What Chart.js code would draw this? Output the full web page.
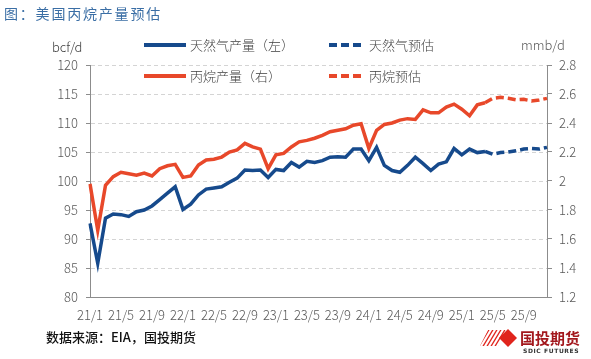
<!DOCTYPE html>
<html>
<head>
<meta charset="utf-8">
<script src="https://cdn.jsdelivr.net/npm/chart.js@4"></script>
<style>
  html, body { margin: 0; padding: 0; background: #fff; }
  #wrap { position: relative; width: 591px; height: 359px; overflow: hidden; font-family: "Noto Sans CJK SC", sans-serif; }
  #myChart { position: absolute; left: 0; top: 0; }
  .txt { position: absolute; white-space: nowrap; }
  #title { left: 4px; top: 3px; font-size: 14px; color: #3a6ea5; letter-spacing: 1.8px; }
  #unitL { left: 52px; top: 37px; font-size: 13px; color: #404040; font-weight: 300; }
  #unitR { left: 521px; top: 35px; font-size: 13px; color: #595959; font-weight: 300; }
  #source { left: 46px; top: 327px; font-size: 13px; color: #111; font-weight: 500; }
  #logo { position: absolute; left: 478px; top: 326px; }
</style>
</head>
<body>
<div id="wrap">
  <canvas id="myChart" width="591" height="359"></canvas>
  <div class="txt" id="title">图：美国丙烷产量预估</div>
  <div class="txt" id="unitL">bcf/d</div>
  <div class="txt" id="unitR">mmb/d</div>
  <div class="txt" id="source">数据来源：EIA，国投期货</div>
  <svg id="logo" width="110" height="30" viewBox="0 0 110 30">
    <defs>
      <clipPath id="hatch">
        <polygon points="10,4 28,4 20,20 2,20"/>
      </clipPath>
    </defs>
    <g clip-path="url(#hatch)" stroke="#e0241c" stroke-width="1.3">
      <line x1="0" y1="22" x2="12" y2="2"/>
      <line x1="4" y1="22" x2="16" y2="2"/>
      <line x1="8" y1="22" x2="20" y2="2"/>
      <line x1="12" y1="22" x2="24" y2="2"/>
      <line x1="16" y1="22" x2="28" y2="2"/>
      <line x1="20" y1="22" x2="32" y2="2"/>
    </g>
    <polygon points="30,3 39,12 30,21 21,12" fill="#e0241c"/>
    <text x="42" y="18" font-size="15" font-weight="bold" fill="#a3181d" font-family="Noto Sans CJK SC">国投期货</text>
    <text x="45" y="27" font-size="6" font-weight="bold" fill="#333" font-family="DejaVu Sans" letter-spacing="0.6">SDIC FUTURES</text>
  </svg>
</div>
<script>
// 月份 21/1 .. 25/12
const months = [
  "21/1","21/2","21/3","21/4","21/5","21/6","21/7","21/8","21/9","21/10","21/11","21/12",
  "22/1","22/2","22/3","22/4","22/5","22/6","22/7","22/8","22/9","22/10","22/11","22/12",
  "23/1","23/2","23/3","23/4","23/5","23/6","23/7","23/8","23/9","23/10","23/11","23/12",
  "24/1","24/2","24/3","24/4","24/5","24/6","24/7","24/8","24/9","24/10","24/11","24/12",
  "25/1","25/2","25/3","25/4","25/5","25/6","25/7","25/8","25/9","25/10","25/11","25/12"
];

// 天然气产量 bcf/d (21/1 - 25/4)
const gasActual = [
  92.7, 85.8, 93.6, 94.3, 94.2, 93.9, 94.7, 95.0, 95.7, 96.8, 97.9, 99.0,
  95.1, 96.0, 97.6, 98.6, 98.8, 99.0, 99.8, 100.5, 101.9, 101.8, 101.9, 100.6,
  102.0, 101.8, 103.2, 102.4, 103.4, 103.2, 103.5, 104.1, 104.2, 104.1, 105.5, 105.5,
  103.5, 105.8, 102.7, 101.8, 101.5, 102.7, 104.1, 103.0, 101.8, 102.9, 103.3, 105.6,
  104.5, 105.5, 104.9, 105.1
];
// 天然气预估 (25/4 - 25/12)
const gasForecast = [105.1, 104.6, 104.9, 105.0, 105.2, 105.5, 105.6, 105.5, 105.8];

// 丙烷产量 mmb/d
const propaneActual = [
  1.98, 1.66, 1.97, 2.03, 2.06, 2.05, 2.04, 2.055, 2.035, 2.085, 2.105, 2.115,
  2.025, 2.035, 2.11, 2.145, 2.15, 2.165, 2.2, 2.215, 2.26, 2.235, 2.22, 2.085,
  2.18, 2.19, 2.235, 2.27, 2.28, 2.295, 2.315, 2.34, 2.35, 2.36, 2.385, 2.395,
  2.225, 2.35, 2.39, 2.4, 2.42, 2.43, 2.425, 2.49, 2.47, 2.47, 2.51, 2.53,
  2.495, 2.45, 2.525, 2.54
];
const propaneForecast = [2.54, 2.57, 2.577, 2.57, 2.56, 2.563, 2.552, 2.559, 2.57];

const leftTicks = [80, 85, 90, 95, 100, 105, 110, 115, 120];
const rightTicks = ["1.2", "1.4", "1.6", "1.8", "2", "2.2", "2.4", "2.6", "2.8"];

const legendNames = ["天然气产量（左）", "天然气预估", "丙烷产量（右）", "丙烷预估"];

const BLUE = "#164a8c";
const RED = "#e8482a";

// forecast series start where the actual series ends
function padFront(arr, total) {
  const out = new Array(total - arr.length).fill(null);
  return out.concat(arr);
}

const n = months.length;

const data = {
  labels: months,
  datasets: [
    {
      label: legendNames[0],
      data: gasActual,
      borderColor: BLUE,
      yAxisID: "y",
    },
    {
      label: legendNames[1],
      data: padFront(gasForecast, n),
      borderColor: BLUE,
      borderDash: [8, 4],
      yAxisID: "y",
    },
    {
      label: legendNames[2],
      data: propaneActual,
      borderColor: RED,
      yAxisID: "y1",
    },
    {
      label: legendNames[3],
      data: padFront(propaneForecast, n),
      borderColor: RED,
      borderDash: [8, 4],
      yAxisID: "y1",
    },
  ],
};

// legend drawn inside the chart, two rows like the original
const legendPlugin = {
  id: "legend2rows",
  afterDraw(chart) {
    const ctx = chart.ctx;
    const spots = [
      { x: 144, y: 45, w: 42, dash: [] },
      { x: 329, y: 45, w: 36, dash: [8, 4] },
      { x: 144, y: 76, w: 42, dash: [] },
      { x: 329, y: 76, w: 36, dash: [8, 4] },
    ];
    chart.data.datasets.forEach((ds, i) => {
      const s = spots[i];
      ctx.save();
      ctx.strokeStyle = ds.borderColor;
      ctx.lineWidth = 4;
      ctx.setLineDash(s.dash);
      ctx.beginPath();
      ctx.moveTo(s.x, s.y);
      ctx.lineTo(s.x + s.w, s.y);
      ctx.stroke();
      ctx.setLineDash([]);
      ctx.fillStyle = "#404040";
      ctx.font = '300 13px "Noto Sans CJK SC"';
      ctx.textBaseline = "middle";
      ctx.fillText(ds.label, s.x + s.w + 4, s.y);
      ctx.restore();
    });
  },
};

const tickFont = { family: "Noto Sans CJK SC", size: 13, weight: 300 };

const config = {
  type: "line",
  data: data,
  options: {
    responsive: false,
    animation: false,
    devicePixelRatio: 1,
    layout: { padding: { top: 65, left: 0, right: 0, bottom: 0 } },
    elements: {
      line: { borderWidth: 3.5, tension: 0 },
      point: { radius: 0 },
    },
    plugins: {
      legend: { display: false },
      tooltip: { enabled: false },
    },
    scales: {
      x: {
        offset: false,
        grid: { display: false },
        border: { color: "#8c8c8c", width: 1 },
        ticks: {
          autoSkip: false,
          maxRotation: 0,
          minRotation: 0,
          padding: 2,
          color: "#595959",
          font: tickFont,
          callback: (v, i) => (i % 4 === 0 ? months[i] : ""),
        },
        afterFit: (scale) => { scale.height = 62; },
      },
      y: {
        position: "left",
        min: leftTicks[0],
        max: leftTicks[leftTicks.length - 1],
        afterBuildTicks: (scale) => { scale.ticks = leftTicks.map((v) => ({ value: v })); },
        grid: {
          color: "#d4d4d4",
          tickColor: "#8c8c8c",
          tickLength: 4,
          tickBorderDash: [],
        },
        border: { color: "#8c8c8c", width: 1, dash: [4, 3] },
        ticks: {
          padding: 8,
          color: "#595959",
          font: tickFont,
        },
        afterFit: (scale) => { scale.width = 90; },
      },
      y1: {
        position: "right",
        min: 1.2,
        max: 2.8,
        afterBuildTicks: (scale) => { scale.ticks = rightTicks.map((v) => ({ value: parseFloat(v) })); },
        grid: {
          drawOnChartArea: false,
          tickColor: "#8c8c8c",
          tickLength: 5,
        },
        border: { color: "#8c8c8c", width: 1 },
        ticks: {
          padding: 7,
          color: "#595959",
          font: tickFont,
          callback: (v, i) => rightTicks[i],
        },
        afterFit: (scale) => { scale.width = 44; },
      },
    },
  },
  plugins: [legendPlugin],
};

const myChart = new Chart(document.getElementById("myChart"), config);
</script>
</body>
</html>
